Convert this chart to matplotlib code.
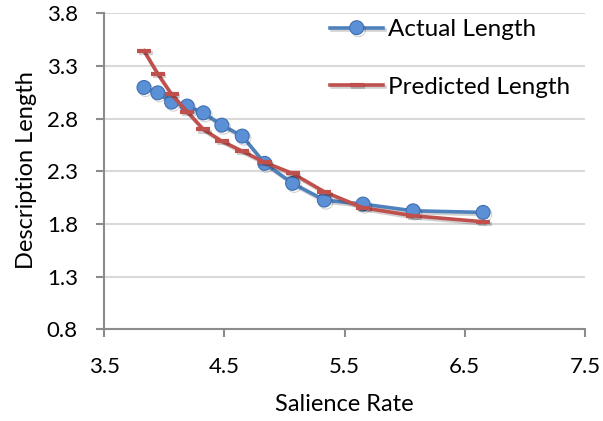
import matplotlib.pyplot as plt
import matplotlib.patheffects as pe

# Datos
salience = [3.83, 3.945, 4.06, 4.19, 4.325, 4.478, 4.648, 4.835, 5.067, 5.331, 5.653, 6.07, 6.653]
actual = [3.097, 3.046, 2.958, 2.92, 2.856, 2.739, 2.635, 2.376, 2.186, 2.027, 1.989, 1.925, 1.91]
predicted = [3.445, 3.226, 3.031, 2.866, 2.698, 2.587, 2.492, 2.385, 2.28, 2.106, 1.954, 1.878, 1.821]

x_ticks = [3.5, 4.5, 5.5, 6.5, 7.5]
y_ticks = [0.8, 1.3, 1.8, 2.3, 2.8, 3.3, 3.8]

plt.rcParams['font.family'] = ['Lato', 'DejaVu Sans']

fig = plt.figure(figsize=(6.03, 4.21), dpi=100)
ax = fig.add_axes([0.173, 0.218, 0.797, 0.750])

sombra = [pe.SimpleLineShadow(offset=(1.2, -1.5), alpha=0.18), pe.Normal()]

ax.plot(salience, actual, color='#4F81BD', lw=2.6, marker='o', ms=10,
        markerfacecolor='#5B8FD6', markeredgecolor='#3F6FB0', markeredgewidth=0.8,
        label='Actual Length', zorder=3, path_effects=sombra)
ax.plot(salience, predicted, color='#C0504D', lw=2.6, marker='_', ms=10,
        markeredgewidth=3, label='Predicted Length', zorder=4, path_effects=sombra)

ax.set_xlim(3.5, 7.5)
ax.set_ylim(0.8, 3.8)
ax.set_xticks(x_ticks)
ax.set_yticks(y_ticks)
ax.set_xticklabels([str(v) for v in x_ticks])
ax.set_yticklabels([str(v) for v in y_ticks])

ax.grid(axis='y', color='#D9D9D9', lw=1.5, zorder=0)
ax.set_axisbelow(True)
for s in ['top', 'right']:
    ax.spines[s].set_visible(False)
for s in ['left', 'bottom']:
    ax.spines[s].set_color('#8C8C8C')
    ax.spines[s].set_linewidth(1.5)
ax.tick_params(axis='both', colors='#8C8C8C', width=1.5, length=6, labelsize=16,
               labelcolor='black')
ax.tick_params(axis='x', pad=14)
ax.tick_params(axis='y', pad=13)

ax.set_xlabel('Salience Rate', fontsize=17)
ax.set_ylabel('Description Length', fontsize=17)
ax.xaxis.set_label_coords(0.50, -0.205)
ax.yaxis.set_label_coords(-0.14, 0.504)

ax.legend(loc='upper left', bbox_to_anchor=(0.4695, 0.982), frameon=False, fontsize=17.5,
          handlelength=2.2, labelspacing=1.5, handletextpad=0.2,
          borderpad=0, borderaxespad=0)

fig.savefig('out.png', dpi=100)
